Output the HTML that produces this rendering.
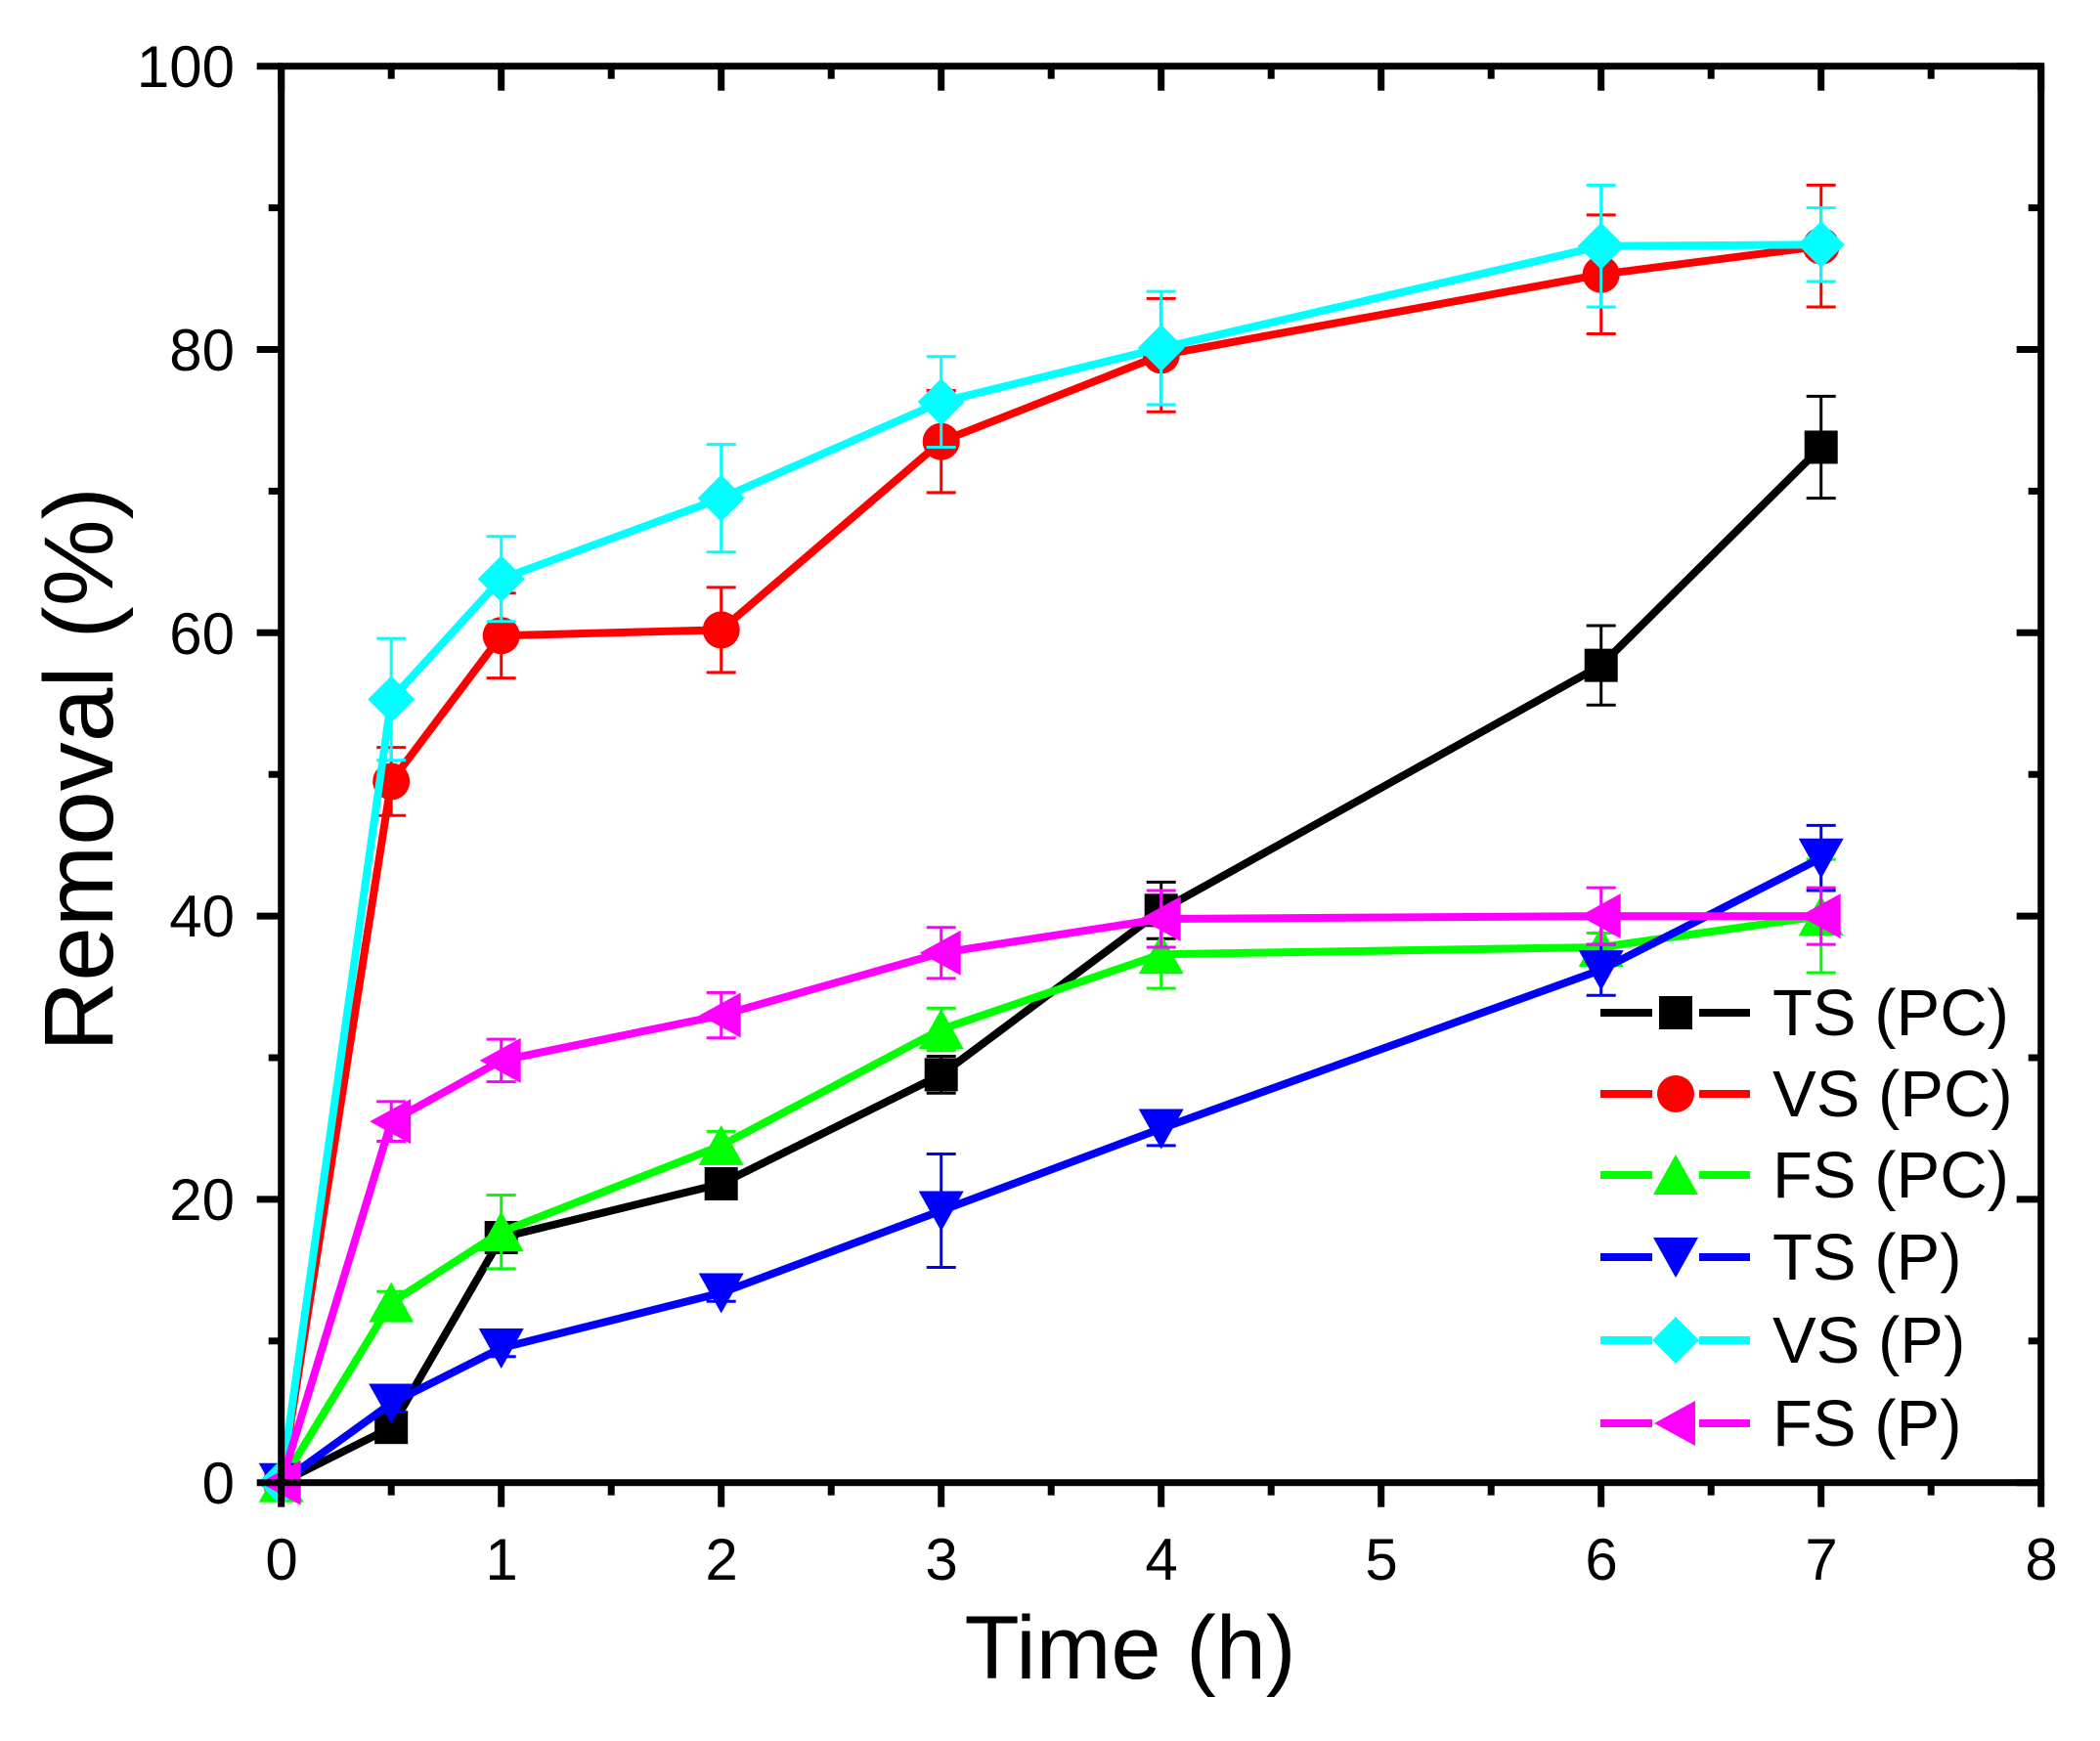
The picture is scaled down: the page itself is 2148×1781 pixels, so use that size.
<!DOCTYPE html>
<html><head><meta charset="utf-8"><style>
html,body{margin:0;padding:0;background:#fff}
svg{display:block}
text{font-family:"Liberation Sans",Arial,sans-serif;fill:#000}
</style></head><body>
<svg id="s" width="2148" height="1781" viewBox="0 0 2148 1781" xmlns="http://www.w3.org/2000/svg">
<g id="plot"></g>
<g id="axes"></g>
<g font-size="60" text-anchor="middle">
<text x="288" y="1616">0</text><text x="513" y="1616">1</text><text x="738" y="1616">2</text><text x="963" y="1616">3</text><text x="1188" y="1616">4</text><text x="1413" y="1616">5</text><text x="1638" y="1616">6</text><text x="1863" y="1616">7</text><text x="2088" y="1616">8</text>
</g>
<g font-size="60" text-anchor="end">
<text x="240" y="1538">0</text><text x="240" y="1248">20</text><text x="240" y="958">40</text><text x="240" y="669">60</text><text x="240" y="379">80</text><text x="240" y="89">100</text>
</g>
<text x="1156" y="1717" font-size="92" text-anchor="middle">Time (h)</text>
<text transform="translate(115,787) rotate(-90)" font-size="100" text-anchor="middle">Removal (%)</text>
<g id="leg"></g>
<g font-size="67">
<text x="1813" y="1059">TS (PC)</text>
<text x="1813" y="1142">VS (PC)</text>
<text x="1813" y="1225">FS (PC)</text>
<text x="1813" y="1309">TS  (P)</text>
<text x="1813" y="1394">VS (P)</text>
<text x="1813" y="1479">FS (P)</text>
</g>
</svg>
<script>
var NS="http://www.w3.org/2000/svg";
function X(t){return 287.7+225*t}
function Y(v){return 1516.7-14.49*v}
function el(p,n,a){var e=document.createElementNS(NS,n);for(var k in a)e.setAttribute(k,a[k]);p.appendChild(e);return e}
var T=[0,0.5,1,2,3,4,6,7];
var S=[
{c:"#000",m:"sq",v:[0,3.9,17.3,21.1,28.8,40.4,57.7,73.1],e:[0,0.6,0.8,0.8,1.3,2,2.8,3.6]},
{c:"#f00",m:"ci",v:[0,49.5,59.8,60.2,73.5,79.6,85.3,87.3],e:[0,2.4,3,3,3.6,4,4.2,4.3]},
{c:"#0f0",m:"up",v:[0,12.7,17.7,23.8,32.0,37.3,37.8,40.0],e:[0,0.8,2.6,1,1.5,2.4,1,4]},
{c:"#00f",m:"dn",v:[0,5.6,9.5,13.4,19.2,25.0,36.2,44.1],e:[0,0.6,0.6,0.6,4,1.2,1.8,2.3]},
{c:"#0ff",m:"di",v:[0,55.3,63.8,69.5,76.3,80.1,87.3,87.4],e:[0,4.3,3,3.8,3.2,4,4.3,2.6]},
{c:"#f0f",m:"lt",v:[0,25.5,29.8,33.0,37.4,39.8,40.0,40.0],e:[0,1.4,1.5,1.6,1.8,2,2,2]}
];
function mark(g,m,x,y,c){
 var r=17;
 if(m=="sq")el(g,"rect",{x:x-r,y:y-r,width:2*r,height:2*r,fill:c});
 else if(m=="ci")el(g,"circle",{cx:x,cy:y,r:19,fill:c});
 else if(m=="up")el(g,"polygon",{points:[x,y-21,x+23,y+20,x-23,y+20].join(" "),fill:c});
 else if(m=="dn")el(g,"polygon",{points:[x,y+21,x+23,y-20,x-23,y-20].join(" "),fill:c});
 else if(m=="di")el(g,"polygon",{points:[x,y-24,x+24,y,x,y+24,x-24,y].join(" "),fill:c});
 else if(m=="lt")el(g,"polygon",{points:[x-22,y,x+20,y-23,x+20,y+23].join(" "),fill:c});
}
var P=document.getElementById("plot");
S.forEach(function(s){
 var g=el(P,"g",{});
 for(var i=1;i<8;i++){var x=X(T[i]),y1=Y(s.v[i]+s.e[i]),y2=Y(s.v[i]-s.e[i]);
  el(g,"line",{x1:x,y1:y1,x2:x,y2:y2,stroke:s.c,"stroke-width":3});
  el(g,"line",{x1:x-15,y1:y1,x2:x+15,y2:y1,stroke:s.c,"stroke-width":3});
  el(g,"line",{x1:x-15,y1:y2,x2:x+15,y2:y2,stroke:s.c,"stroke-width":3});}
 el(g,"polyline",{points:T.map(function(t,i){return X(t)+","+Y(s.v[i])}).join(" "),fill:"none",stroke:s.c,"stroke-width":8,"stroke-linejoin":"round"});
 T.forEach(function(t,i){mark(g,s.m,X(t),Y(s.v[i]),s.c)});
});
var A=document.getElementById("axes");
el(A,"rect",{x:287.7,y:67.7,width:1800,height:1449,fill:"none",stroke:"#000","stroke-width":7});
for(var t=0;t<=8;t+=0.5){var x=X(t),L=(t%1==0)?25:13;
 el(A,"line",{x1:x,y1:1516.7,x2:x,y2:1516.7+L,stroke:"#000","stroke-width":7});
 el(A,"line",{x1:x,y1:67.7,x2:x,y2:67.7+L,stroke:"#000","stroke-width":7});}
for(var v=0;v<=100;v+=10){var y=Y(v),L=(v%20==0)?25:13;
 el(A,"line",{x1:287.7,y1:y,x2:287.7-L,y2:y,stroke:"#000","stroke-width":7});
 el(A,"line",{x1:2087.7,y1:y,x2:2087.7-L,y2:y,stroke:"#000","stroke-width":7});}
var G=document.getElementById("leg");var ly=[1036,1119,1202,1286,1371,1456];
S.forEach(function(s,i){
 el(G,"line",{x1:1637,y1:ly[i],x2:1690,y2:ly[i],stroke:s.c,"stroke-width":8});
 el(G,"line",{x1:1738,y1:ly[i],x2:1790,y2:ly[i],stroke:s.c,"stroke-width":8});
 mark(G,s.m,1714,ly[i],s.c);
});
</script>
</body></html>
